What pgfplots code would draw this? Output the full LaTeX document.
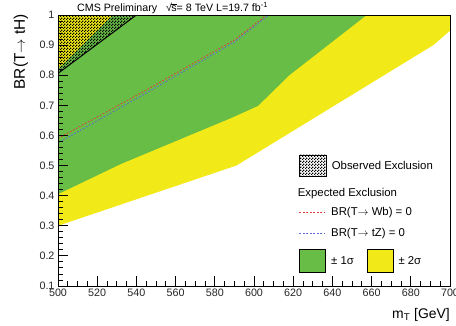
\documentclass[border=0pt]{standalone}
\usepackage{fontspec}
\setmainfont{Liberation Sans}
\usepackage{pgfplots}
\pgfplotsset{compat=1.18}
\usetikzlibrary{patterns}
\definecolor{cmsgreen}{RGB}{104,189,70}
\definecolor{cmsyellow}{RGB}{242,234,24}
\definecolor{dred}{RGB}{225,60,60}
\definecolor{dblue}{RGB}{95,105,210}
\pgfdeclarepatternformonly{finecheck}{\pgfpointorigin}{\pgfqpoint{2.6bp}{2.6bp}}{\pgfqpoint{2.6bp}{2.6bp}}{%
  \pgfpathrectangle{\pgfpointorigin}{\pgfqpoint{1.3bp}{1.3bp}}%
  \pgfpathrectangle{\pgfqpoint{1.3bp}{1.3bp}}{\pgfqpoint{1.3bp}{1.3bp}}%
  \pgfusepath{fill}}
\begin{document}
\begin{tikzpicture}
\useasboundingbox (-58bp,-40bp) rectangle (398bp,286bp);
\begin{axis}[
  at={(0,0)}, anchor=south west,
  scale only axis, width=392bp, height=271bp,
  xmin=500, xmax=700, ymin=0.1, ymax=1,
  xtick={500,520,...,700},
  xticklabels={500,520,540,560,580,600,620,640,660,680,700},
  ytick={0.1,0.2,0.3,0.4,0.5,0.6,0.7,0.8,0.9,1},
  yticklabels={0.1,0.2,0.3,0.4,0.5,0.6,0.7,0.8,0.9,1},
  minor x tick num=3, minor y tick num=4,
  tick align=inside, xtick pos=bottom, ytick pos=left,
  major tick length=10bp, minor tick length=5bp,
  every tick/.style={black, line width=0.9bp},
  axis line style={line width=0.8bp},
  tick label style={font=\fontsize{10.8}{12}\selectfont, text=black!85},
  /pgf/number format/assume math mode=true,
  xticklabel style={yshift=1bp},
  axis on top,
]
% +-2 sigma band
\addplot[fill=cmsyellow, draw=none] coordinates {
  (500,0.30) (591,0.50) (691.5,0.90) (700,0.948) (700,1.0) (500,1.0)};
% +-1 sigma band
\addplot[fill=cmsgreen, draw=none] coordinates {
  (500,0.405) (532,0.505) (588,0.657) (602,0.698) (618,0.80) (657.5,1.0) (528,1.0) (500,0.82)};
% observed exclusion
\addplot[pattern=finecheck, pattern color=black, draw=none] coordinates {
  (500,0.806) (540,1.0) (500,1.0)};
\addplot[black, line width=1bp] coordinates {(500,0.806) (540,1.0)};
% expected
\addplot[dred, line width=0.8bp, dash pattern=on 1.8bp off 1.6bp] coordinates {
  (500,0.590) (544,0.747) (590,0.917) (606.5,1.0)};
\addplot[dblue, line width=0.8bp, dash pattern=on 1.8bp off 1.6bp, dash phase=1.7bp] coordinates {
  (500,0.575) (544,0.737) (590,0.910) (607.5,1.0)};
\end{axis}
% texts and legend (pixel units: x = px-58, y = 286-py)
\begin{scope}[x=1bp, y=1bp]
  \node[anchor=base west, inner sep=0, font=\fontsize{10.7}{12}\selectfont] at (19,275)
    {CMS Preliminary \ \ √\kern-0.5pt$\overline{\mbox{s}}$= 8 TeV L=19.7 fb\raisebox{4bp}{\fontsize{7.5}{8}\selectfont -1}};
  \node[rotate=90, anchor=east, inner sep=0, font=\fontsize{15.5}{17}\selectfont] at (-37,272)
    {BR(T$\rightarrow$ tH)};
  \node[anchor=base east, inner sep=0, font=\fontsize{14}{16}\selectfont] at (392,-32)
    {m$_{\mathrm{T}}$ [GeV]};
\end{scope}
\begin{scope}[x=1bp, y=1bp, font=\fontsize{11.4}{13}\selectfont]
  \path[pattern=finecheck, pattern color=black] (241.3,109.3) rectangle (268,131);
  \draw[black, line width=0.6bp] (241.3,109.3) rectangle (268,131);
  \node[anchor=west, inner sep=0] at (273.7,120.3) {Observed Exclusion};
  \node[anchor=west, inner sep=0] at (239.7,92.7) {Expected Exclusion};
  \draw[dred, line width=0.8bp, dash pattern=on 2bp off 1.5bp] (241.3,73.3) -- (267,73.3);
  \node[anchor=west, inner sep=0] at (273,73.3) {BR(T$\rightarrow$ Wb) = 0};
  \draw[dblue, line width=0.8bp, dash pattern=on 2bp off 1.5bp] (241.3,52.7) -- (267,52.7);
  \node[anchor=west, inner sep=0] at (273,52.7) {BR(T$\rightarrow$ tZ) = 0};
  \filldraw[fill=cmsgreen, draw=black, line width=0.6bp] (241.3,14) rectangle (267.7,36.7);
  \node[anchor=west, inner sep=0] at (273,25.3) {± 1σ};
  \filldraw[fill=cmsyellow, draw=black, line width=0.6bp] (309.3,14) rectangle (335.3,36.7);
  \node[anchor=west, inner sep=0] at (340.3,25.3) {± 2σ};
\end{scope}
\end{tikzpicture}
\end{document}
